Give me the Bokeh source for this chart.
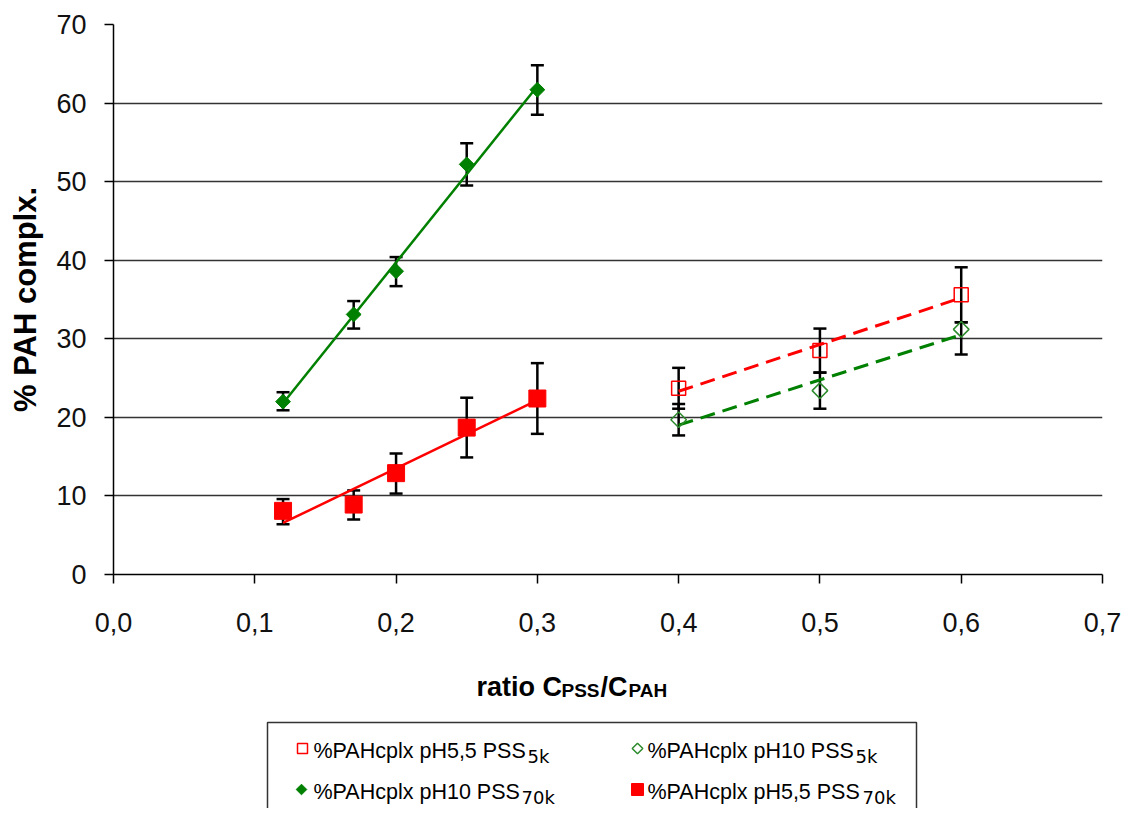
import numpy as np
from bokeh.plotting import figure
from bokeh.layouts import column
from bokeh.models import Range1d, FixedTicker
from bokeh.core.properties import value
from bokeh.embed import file_html
from bokeh.resources import INLINE

# ---------------- data ----------------
x_70k = [0.12, 0.17, 0.20, 0.25, 0.30]
ph10_70k = [22.0, 33.1, 38.6, 52.2, 61.7]
ph10_70k_lo = [20.9, 31.3, 36.7, 49.5, 58.5]
ph10_70k_hi = [23.2, 34.8, 40.4, 54.9, 64.8]

ph55_70k = [8.1, 8.9, 12.9, 18.7, 22.4]
ph55_70k_lo = [6.4, 7.0, 10.3, 14.9, 17.9]
ph55_70k_hi = [9.6, 10.7, 15.4, 22.5, 26.9]

x_5k = [0.4, 0.5, 0.6]
ph55_5k = [23.7, 28.5, 35.6]
ph55_5k_lo = [21.1, 25.7, 32.1]
ph55_5k_hi = [26.3, 31.3, 39.1]

ph10_5k = [19.7, 23.4, 31.2]
ph10_5k_lo = [17.7, 21.1, 28.0]
ph10_5k_hi = [21.7, 25.7, 32.1]

x_ticks = [0.0, 0.1, 0.2, 0.3, 0.4, 0.5, 0.6, 0.7]
x_tick_labels = ["0,0", "0,1", "0,2", "0,3", "0,4", "0,5", "0,6", "0,7"]
y_ticks = [0, 10, 20, 30, 40, 50, 60, 70]

legend_main = ["%PAHcplx pH5,5 PSS", "%PAHcplx pH10 PSS", "%PAHcplx pH10 PSS", "%PAHcplx pH5,5 PSS"]
legend_sub = ["5k", "5k", "70k", "70k"]

y_title = "% PAH complx."
x_title_parts = ["ratio C", "PSS", "/C", "PAH"]

# ---------------- layout constants ----------------
W = 1123
H_MAIN = 645
H_BOT = 808 - H_MAIN
FL, FR, FT, FB = 113, 1102, 24, 574   # main frame edges (px)
GREEN = "#008000"
GREEN_OPEN = "#2E8B2E"
RED = "#FF0000"
FONT = "Liberation Sans"

p = figure(width=W, height=H_MAIN, x_range=Range1d(0.0, 0.7), y_range=Range1d(0, 70),
           output_backend="svg", toolbar_location=None,
           min_border_left=FL, min_border_right=W - FR,
           min_border_top=FT, min_border_bottom=H_MAIN - FB)
p.outline_line_color = None
p.background_fill_color = "white"
p.border_fill_color = "white"

p.xgrid.visible = False
p.ygrid.grid_line_color = "#333333"
p.ygrid.grid_line_width = 1.5
p.ygrid.ticker = FixedTicker(ticks=y_ticks)

p.xaxis.ticker = FixedTicker(ticks=x_ticks)
p.xaxis.major_label_overrides = dict(zip(x_ticks, x_tick_labels))
p.yaxis.ticker = FixedTicker(ticks=y_ticks)

for ax in (p.xaxis, p.yaxis):
    ax.axis_line_color = "black"
    ax.axis_line_width = 1.5
    ax.major_tick_line_color = "black"
    ax.major_tick_line_width = 1.5
    ax.major_tick_out = 9
    ax.major_tick_in = 0
    ax.minor_tick_line_color = None
    ax.major_label_text_font = FONT
    ax.major_label_text_font_size = "27px"
    ax.major_label_text_color = "#111111"

p.xaxis.major_label_standoff = 29
p.yaxis.major_label_standoff = 18
p.yaxis.axis_label = y_title
p.yaxis.axis_label_text_font = FONT
p.yaxis.axis_label_text_font_style = "bold"
p.yaxis.axis_label_text_font_size = "31px"
p.yaxis.axis_label_text_color = "black"
p.yaxis.axis_label_standoff = 10

# ---------------- error bars ----------------
for xs, lo, hi in [(x_70k, ph10_70k_lo, ph10_70k_hi), (x_70k, ph55_70k_lo, ph55_70k_hi),
                   (x_5k, ph55_5k_lo, ph55_5k_hi), (x_5k, ph10_5k_lo, ph10_5k_hi)]:
    p.segment(x0=xs, y0=lo, x1=xs, y1=hi, line_color="black", line_width=2.5)
    p.scatter(xs, lo, marker="dash", size=13, line_color="black", line_width=2.5)
    p.scatter(xs, hi, marker="dash", size=13, line_color="black", line_width=2.5)

# ---------------- trend lines (linear fits) ----------------
for xs, ys, col, dash, lw in [(x_70k, ph10_70k, GREEN, "solid", 2.5), (x_70k, ph55_70k, RED, "solid", 2.5),
                              (x_5k, ph55_5k, RED, "15 8", 3), (x_5k, ph10_5k, GREEN, "15 8", 3)]:
    k, b = np.polyfit(xs, ys, 1)
    xe = np.array([min(xs), max(xs)])
    p.line(xe, k * xe + b, line_color=col, line_width=lw, line_dash=dash)

# ---------------- markers ----------------
p.scatter(x_70k, ph10_70k, marker="square", angle=np.pi / 4, size=10.5, fill_color=GREEN, line_color=GREEN)
p.scatter(x_70k, ph55_70k, marker="square", size=17, fill_color=RED, line_color=RED)
p.scatter(x_5k, ph55_5k, marker="square", size=14, fill_color=None, line_color=RED, line_width=1.5)
p.scatter(x_5k, ph10_5k, marker="square", angle=np.pi / 4, size=11, fill_color=None,
          line_color=GREEN_OPEN, line_width=1.5)

# ---------------- bottom panel: x axis title + legend ----------------
# frame horizontally identical to the main frame; data units == pixels
q = figure(width=W, height=H_BOT, x_range=Range1d(FL, FR), y_range=Range1d(H_MAIN + H_BOT, H_MAIN),
           output_backend="svg", toolbar_location=None,
           x_axis_location=None, y_axis_location=None,
           min_border_left=FL, min_border_right=W - FR, min_border_top=0, min_border_bottom=0)
q.outline_line_color = None
q.xgrid.visible = False
q.ygrid.visible = False
q.background_fill_color = "white"
q.border_fill_color = "white"

# x axis title with subscripts (positions in px)
xt_x = [476, 561, 600, 628]
xt_y = [686, 690, 686, 690]
xt_size = ["27px", "19px", "27px", "19px"]
for t, xx, yy, fs in zip(x_title_parts, xt_x, xt_y, xt_size):
    q.text(x=[xx], y=[yy], text=[t], text_font=value(FONT), text_font_style="bold",
           text_font_size=fs, text_color="black", text_baseline="alphabetic", text_align="left")

# legend frame
q.quad(left=[267], right=[916], top=[722], bottom=[840], fill_color=None,
       line_color="#333333", line_width=1.5)

main_x = [313, 647, 313, 647]
main_y = [750, 750, 791, 791]
sub_x = [527, 855, 521, 862]
sub_y = [756, 756, 797, 797]
q.text(x=main_x, y=main_y, text=legend_main, text_font=value(FONT), text_font_size="21.5px",
       text_color="black", text_baseline="alphabetic")
q.text(x=sub_x, y=sub_y, text=legend_sub, text_font=value("DejaVu Sans"), text_font_size="18px",
       text_color="black", text_baseline="alphabetic")

# legend symbols
q.scatter([302], [748], marker="square", size=10, fill_color=None, line_color=RED, line_width=1.5)
q.scatter([637], [748], marker="square", angle=np.pi / 4, size=7.5, fill_color=None,
          line_color=GREEN_OPEN, line_width=1.5)
q.scatter([301], [789], marker="square", angle=np.pi / 4, size=7.5, fill_color=GREEN, line_color=GREEN)
q.scatter([637], [789], marker="square", size=12, fill_color=RED, line_color=RED)

layout = column(p, q, spacing=0)
open("out.html", "w").write(file_html(layout, INLINE))
